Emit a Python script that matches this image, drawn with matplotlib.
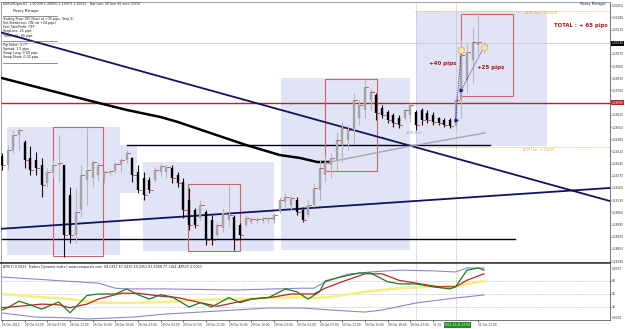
import matplotlib
matplotlib.use('Agg')
import matplotlib.pyplot as plt
from matplotlib.patches import Rectangle

# ---------------- data ----------------
bar_open = [1.29384,1.29332,1.29418,1.29504,1.29464,1.29372,1.29361,1.29332,1.29229,1.29286,
            1.29332,1.29332,1.29160,1.28930,1.29074,1.29246,1.29257,1.29274,1.29257,1.29286,
            1.29297,1.29332,1.29361,1.29372,1.29292,1.29257,1.29246,1.29246,1.29292,1.29292,
            1.29315,1.29274,1.29234,1.29131,1.29074,1.29028,1.29062,1.29016,1.28930,1.28970,
            1.29016,1.29033,1.28987,1.28987,1.29005,1.29010,1.29010,1.29016,1.29016,1.29062,
            1.29120,1.29102,1.29131,1.29074,1.29045,1.29102,1.29188,1.29274,1.29332,1.29361,
            1.29447,1.29475,1.29533,1.29602,1.29648,1.29705,1.29734,1.29659,1.29636,1.29619,
            1.29602,1.29602,1.29619,1.29636,1.29648,1.29630,1.29619,1.29602,1.29590,1.29590,
            1.29556,1.29705,1.29820,1.29935,1.30021,1.29992]
bar_high = [1.29401,1.29447,1.29533,1.29544,1.29475,1.29441,1.29407,1.29372,1.29315,1.29361,
            1.29504,1.29332,1.29206,1.29200,1.29332,1.29544,1.29361,1.29349,1.29303,1.29303,
            1.29349,1.29372,1.29418,1.29378,1.29332,1.29292,1.29263,1.29320,1.29343,1.29332,
            1.29332,1.29292,1.29257,1.29200,1.29085,1.29131,1.29074,1.29045,1.29005,1.29085,
            1.29217,1.29045,1.28999,1.29045,1.29033,1.29028,1.29033,1.29033,1.29056,1.29148,
            1.29171,1.29160,1.29148,1.29091,1.29131,1.29229,1.29361,1.29389,1.29401,1.29521,
            1.29579,1.29561,1.29745,1.29705,1.29820,1.29774,1.29745,1.29676,1.29648,1.29630,
            1.29619,1.29659,1.29688,1.29648,1.29659,1.29648,1.29636,1.29607,1.29602,1.29602,
            1.29734,1.30049,1.30032,1.30124,1.30204,1.30038]
bar_low = [1.29303,1.29303,1.29401,1.29418,1.29315,1.29274,1.29274,1.29148,1.29206,1.29263,
           1.29234,1.28804,1.28884,1.28884,1.29033,1.29102,1.29206,1.29246,1.29229,1.29274,
           1.29286,1.29292,1.29343,1.29234,1.29171,1.29131,1.29171,1.29234,1.29263,1.29257,
           1.29229,1.29206,1.29028,1.28959,1.28970,1.29016,1.28873,1.28873,1.28919,1.28947,
           1.28976,1.28844,1.28901,1.28976,1.28993,1.28999,1.28999,1.28999,1.28999,1.29056,
           1.29091,1.29074,1.29045,1.29005,1.29033,1.29091,1.29131,1.29234,1.29257,1.29303,
           1.29349,1.29418,1.29458,1.29561,1.29602,1.29648,1.29590,1.29602,1.29573,1.29550,
           1.29544,1.29590,1.29579,1.29533,1.29561,1.29573,1.29561,1.29561,1.29550,1.29544,
           1.29533,1.29602,1.29745,1.29803,1.29963,1.29975]
bar_close = [1.29332,1.29418,1.29504,1.29533,1.29361,1.29303,1.29315,1.29217,1.29292,1.29332,
             1.29343,1.28930,1.28930,1.29062,1.29274,1.29303,1.29349,1.29332,1.29292,1.29297,
             1.29338,1.29361,1.29401,1.29274,1.29188,1.29160,1.29188,1.29303,1.29326,1.29320,
             1.29257,1.29229,1.29074,1.28987,1.28987,1.29102,1.28901,1.28901,1.28987,1.29056,
             1.29045,1.28901,1.28930,1.29028,1.29022,1.29022,1.29028,1.29028,1.29045,1.29131,
             1.29148,1.29142,1.29062,1.29016,1.29102,1.29200,1.29315,1.29349,1.29372,1.29475,
             1.29544,1.29533,1.29705,1.29676,1.29780,1.29751,1.29630,1.29619,1.29590,1.29573,
             1.29561,1.29648,1.29676,1.29561,1.29590,1.29590,1.29579,1.29573,1.29561,1.29556,
             1.29705,1.29963,1.29981,1.30038,1.30038,1.30021]

time_idx = [0, 4, 8, 12, 16, 20, 24, 28, 32, 36, 40, 44, 48, 52, 56, 60, 64, 68, 72, 76, 84]
time_labels = ["25 Oct 2012", "26 Oct 03:00", "26 Oct 07:00", "26 Oct 11:00", "26 Oct 15:00",
               "26 Oct 19:00", "26 Oct 23:00", "29 Oct 03:00", "29 Oct 07:00", "29 Oct 11:00",
               "29 Oct 15:00", "29 Oct 19:00", "29 Oct 23:00", "30 Oct 03:00", "30 Oct 07:00",
               "30 Oct 11:00", "30 Oct 15:00", "30 Oct 19:00", "30 Oct 23:00", "31 Oc",
               "31 Oct 11:00"]
cursor_idx = 80
cursor_label = "2012.10.31 07:00"
day_sep_idx = 73

price_ticks = [round(1.28780 + 0.0007 * k, 5) for k in range(22)]

ma_idx = [0, 15, 22, 28, 31, 43, 49, 52.6, 55.6, 57.8]
ma_val = [1.29831, 1.29705, 1.29648, 1.29607, 1.29579, 1.29447, 1.29389, 1.29372, 1.29349, 1.29349]
ma2_idx = [57.8, 70.2, 85.2]
ma2_val = [1.29349, 1.29429, 1.29516]

trend1 = ([-0.35, 107.2], [1.30095, 1.29125])
trend2 = ([-0.35, 107.2], [1.28965, 1.29200])
hline1 = (22, 86, 1.29444)
hline2 = (-0.35, 90.5, 1.28907)
red_level = 1.29690
bid_price = 1.30030
adr_high = 1.30219
adr_low = 1.29436

session_boxes = [(0.9, 20.8, 1.28815, 1.29550), (20.8, 23.8, 1.29171, 1.29447),
                 (24.9, 48.0, 1.28838, 1.29349), (49.2, 72.0, 1.28844, 1.29831),
                 (73.0, 96.1, 1.29441, 1.30216)]
red_boxes = [(9.0, 17.8, 1.28810, 1.29550), (32.8, 42.0, 1.28838, 1.29223),
             (57.0, 66.1, 1.29297, 1.29826), (81.0, 90.1, 1.29728, 1.30199)]

trade_entry_idx = [80, 81]
trade_entry_px = [1.29590, 1.29760]
trade_exit_idx = [81, 85]
trade_exit_px = [1.29990, 1.30010]

# TDI lines
tdi_green_i = [0,1,3,5,7,10,12,15,17,20,22,24,26,28,30,33,35,37,40,42,44,47,50,52,54,56,57,60,63,65,68,70,73,76,79,80,82,84,85]
tdi_green_v = [28,31,40,35,29,39,24,48,50,50,57,49,43,49,46,32,38,32,45,38,43,45,57,53,43,53,68,74,79,79,67,64,64,60,57,60,83,86,83]
tdi_red_i = [0,3,7,10,12,15,17,21,24,28,31,35,38,41,44,48,51,53,55,57,60,64,67,70,73,77,80,82,85]
tdi_red_v = [31,33,36,35,31,36,43,51,51,47,45,38,33,38,43,46,50,50,50,58,67,78,78,69,65,60,60,69,78]
tdi_yel_i = [0,6,12,17,23,29,35,41,47,53,55,58,64,70,76,80,85]
tdi_yel_v = [50,46,43,38,37.5,39,42,43,44.5,45.5,44.5,46,53,58,60,61,68]
tdi_up_i = [0,9,17,20,22,29,41,48,53,55,57,61,65,70,76,80,82,85]
tdi_up_v = [73.5,69,65,58,57,57,55.5,57,58,58,66.5,77.5,80.5,83,82,80.5,86,86]
tdi_lo_i = [0,6,12,15,23,29,35,41,47,53,58,64,67,73,80,85]
tdi_lo_v = [23.7,18,17,15.4,18,22.3,25,27.8,30.6,30.6,27.8,25,27.8,37.5,44.5,48.6]
tdi_levels = [32, 50, 68]

# ---------------- figure ----------------
W, H = 625, 329
fig = plt.figure(figsize=(W / 100, H / 100), dpi=100)
fig.patch.set_facecolor('white')
FONT = 'DejaVu Sans'
tiny = 2.3
axfs = 2.05

def fx(px):
    return px / W

def fy(py):
    return 1 - py / H

XMIN = -0.176
XMAX = XMIN + 609 / 5.67

ax = fig.add_axes([fx(1), fy(263), 609 / W, 261 / H])
ax2 = fig.add_axes([fx(1), fy(320), 609 / W, 57 / H])
for a in (ax, ax2):
    a.set_xlim(XMIN, XMAX)
    a.set_facecolor('white')
    for s in a.spines.values():
        s.set_color('#909090')
        s.set_linewidth(0.6)
    a.spines['right'].set_color('#606060')
ax.spines['bottom'].set_color('#404040')
ax.spines['bottom'].set_linewidth(1.2)
ax2.spines['top'].set_color('#404040')
ax2.spines['top'].set_linewidth(1.2)
ax2.spines['bottom'].set_color('#606060')

ax.set_ylim(1.28769, 1.30268)
ax2.set_ylim(14, 92.9)

# session boxes
for x0, x1, y0, y1 in session_boxes:
    ax.add_patch(Rectangle((x0, y0), x1 - x0, y1 - y0, facecolor='#e1e3f7', edgecolor='none', zorder=0))
for x0, x1, y0, y1 in red_boxes:
    ax.add_patch(Rectangle((x0, y0), x1 - x0, y1 - y0, facecolor='none', edgecolor='#d06464', lw=0.8, zorder=3))

# vertical dotted lines
for a in (ax, ax2):
    a.axvline(day_sep_idx, color='#a8a8a8', lw=0.6, ls=(0, (1, 1.5)), zorder=1)
    a.axvline(cursor_idx, color='#a8a8a8', lw=0.6, ls=(0, (1, 1.5)), zorder=1)

# horizontal levels
ax.axhline(red_level, color='#b02828', lw=1.0, zorder=2)
ax.axhline(bid_price, color='#c8c8c8', lw=0.6, zorder=1)
ax.plot([72.8, XMAX], [adr_high, adr_high], color='#e8c060', lw=0.7, ls=(0, (1, 1.2)), zorder=2)
ax.plot([72.8, XMAX], [adr_low, adr_low], color='#e8c060', lw=0.7, ls=(0, (1, 1.2)), zorder=2)
ax.plot([hline1[0], hline1[1]], [hline1[2], hline1[2]], color='#000018', lw=1.0, zorder=2)
ax.plot([hline2[0], hline2[1]], [hline2[2], hline2[2]], color='#000018', lw=1.0, zorder=2)

# trend lines and MA
ax.plot(trend1[0], trend1[1], color='#12125e', lw=1.3, zorder=4)
ax.plot(trend2[0], trend2[1], color='#12125e', lw=1.3, zorder=4)
ax.plot(ma_idx, ma_val, color='#000000', lw=1.8, zorder=4, solid_capstyle='round')
ax.plot(ma2_idx, ma2_val, color='#a8a8a8', lw=1.0, zorder=4)

# bars
for i in range(len(bar_open)):
    o, h, l, c = bar_open[i], bar_high[i], bar_low[i], bar_close[i]
    up = c >= o
    wick = '#b8b8b8' if up else '#101010'
    body = '#a4a4a4' if up else '#000000'
    ax.plot([i, i], [l, h], color=wick, lw=0.8, zorder=5, solid_capstyle='butt')
    ax.plot([i, i], [min(o, c), max(o, c)], color=body, lw=1.7, zorder=5, solid_capstyle='butt')
    ax.plot([i + 0.15, i + 0.55], [c, c], color='#d04040', lw=0.6, zorder=5)

# trades
for ei, ep, xi, xp in zip(trade_entry_idx, trade_entry_px, trade_exit_idx, trade_exit_px):
    ax.plot([ei, xi], [ep, xp], color='#2828a0', lw=0.6, ls=(0, (1.5, 1.2)), zorder=6)
    ax.plot([ei], [ep], marker='>', ms=2, color='#1a1a90', zorder=7)
ax.scatter(trade_exit_idx, trade_exit_px, s=22, facecolor='#f4e4a8', edgecolor='#d8b860', lw=0.6, zorder=7)

# chart texts
ax.text(77.8, 1.29917, '+40 pips', color='#b01818', fontsize=4, fontweight='bold', ha='center', va='center', zorder=8, family=FONT)
ax.text(86.2, 1.29894, '+25 pips', color='#b01818', fontsize=4, fontweight='bold', ha='center', va='center', zorder=8, family=FONT)
ax.text(102.1, 1.30135, 'TOTAL : + 65 pips', color='#b01818', fontsize=3.9, fontweight='bold', ha='center', va='center', zorder=8, family=FONT)
ax.text(92.2, adr_high - 0.00004, 'ADR High : 1.30219', color='#e0b050', fontsize=tiny, ha='left', va='top', zorder=8, family=FONT)
ax.text(91.9, adr_low - 0.00004, 'ADR Low : 1.29436', color='#e0b050', fontsize=tiny, ha='left', va='top', zorder=8, family=FONT)
ax.text(71.3, 1.29516, 'ADR Start', color='#88a8d8', fontsize=tiny, ha='left', va='center', zorder=8, family=FONT)

# right price axis (labels hidden where a highlighted box sits)
ax.yaxis.tick_right()
ax.set_yticks(price_ticks)
tick_txt = []
for t in price_ticks:
    if abs(t - red_level) < 0.0003 or abs(t - bid_price) < 0.0003:
        tick_txt.append('')
    else:
        tick_txt.append(f'{t:.5f}')
ax.set_yticklabels(tick_txt, fontsize=axfs, family=FONT)
ax.tick_params(axis='y', length=1.0, width=0.5, pad=0.5, colors='#303030')
ax.set_xticks([])
tr = ax.get_yaxis_transform()
ax.text(1.002, red_level, f'{red_level:.5f}', transform=tr, fontsize=axfs, color='white', ha='left', va='center',
        family=FONT, bbox=dict(boxstyle='square,pad=0.2', fc='#b02828', ec='none'), clip_on=False, zorder=10)
ax.text(1.002, bid_price, f'{bid_price:.5f}', transform=tr, fontsize=axfs, color='white', ha='left', va='center',
        family=FONT, bbox=dict(boxstyle='square,pad=0.2', fc='#000000', ec='none'), clip_on=False, zorder=10)

# TDI panel
for lv in tdi_levels:
    ax2.axhline(lv, color='#a0a0a0', lw=0.5, ls=(0, (1, 1.5)), zorder=1)
ax2.plot(tdi_yel_i, tdi_yel_v, color='#f4f080', lw=1.8, zorder=2)
ax2.plot(tdi_up_i, tdi_up_v, color='#8c88c8', lw=0.8, zorder=3)
ax2.plot(tdi_lo_i, tdi_lo_v, color='#8c88c8', lw=0.8, zorder=3)
ax2.plot(tdi_red_i, tdi_red_v, color='#c82020', lw=0.9, zorder=4)
ax2.plot(tdi_green_i, tdi_green_v, color='#1e7a1e', lw=0.9, zorder=5)
ax2.yaxis.tick_right()
ax2.set_yticks(tdi_levels)
ax2.set_yticklabels([str(v) for v in tdi_levels], fontsize=axfs, family=FONT)
ax2.tick_params(axis='y', length=1.0, width=0.5, pad=0.5, colors='#303030')
ax2.text(1.003, 0.90, '0.0037', transform=ax2.transAxes, fontsize=axfs, ha='left', va='center', family=FONT, color='#303030')
ax2.text(1.003, 0.03, '0.0000', transform=ax2.transAxes, fontsize=axfs, ha='left', va='center', family=FONT, color='#303030')
ax2.text(0.003, 0.93, 'ATR(7) 0.0023  Traders Dynamic Index | www.compassfx.com  68.0817 67.2435 49.2951 82.2088 77.1164  ATR(7) 0.0023',
         transform=ax2.transAxes, fontsize=tiny, ha='left', va='center', family=FONT, color='#202020')

ax2.set_xticks(time_idx)
ax2.set_xticklabels(time_labels, fontsize=axfs, family=FONT, ha='left')
ax2.tick_params(axis='x', length=1.5, width=0.5, pad=1, colors='#303030')
ax2.text(cursor_idx + 0.3, -0.09, cursor_label, transform=ax2.get_xaxis_transform(), fontsize=axfs, color='white',
         ha='center', va='center', family=FONT, bbox=dict(boxstyle='square,pad=0.25', fc='#1e8c1e', ec='none'),
         clip_on=False, zorder=10)

# info panel text (top-left)
info_lines = [
    (3, 4, 'EURUSDpro,H1  1.30000 1.30000 1.29973 1.30012'),
    (90, 4, 'Bar Left: 30 min 50 secs (50%)'),
    (13, 11, 'Money Manager'),
    (3, 19, 'Trailing Stop: ON (Start at +35 pips; Step 5)'),
    (3, 23, 'Set Breakeven: ON (at +24 pips)'),
    (3, 27, 'First TakeProfit: OFF'),
    (3, 31, 'StopLoss: 25 pips'),
    (3, 36, 'TakeProfit: 80 pips'),
    (3, 45, 'Pip Value: 0.77'),
    (3, 49, 'Spread: 1.5 pips'),
    (3, 53, 'Swap Long: 0.00 pips'),
    (3, 57, 'Swap Short: 0.00 pips'),
    (580, 4, 'Money Manager'),
]
for px, py, t in info_lines:
    fig.text(fx(px), fy(py), t, fontsize=tiny, ha='left', va='center', family=FONT, color='#202020', zorder=20)
for py in (16, 41, 63):
    fig.add_artist(plt.Line2D([fx(3), fx(57)], [fy(py), fy(py)], color='#606060', lw=0.5))

fig.savefig('out.png', dpi=100)
